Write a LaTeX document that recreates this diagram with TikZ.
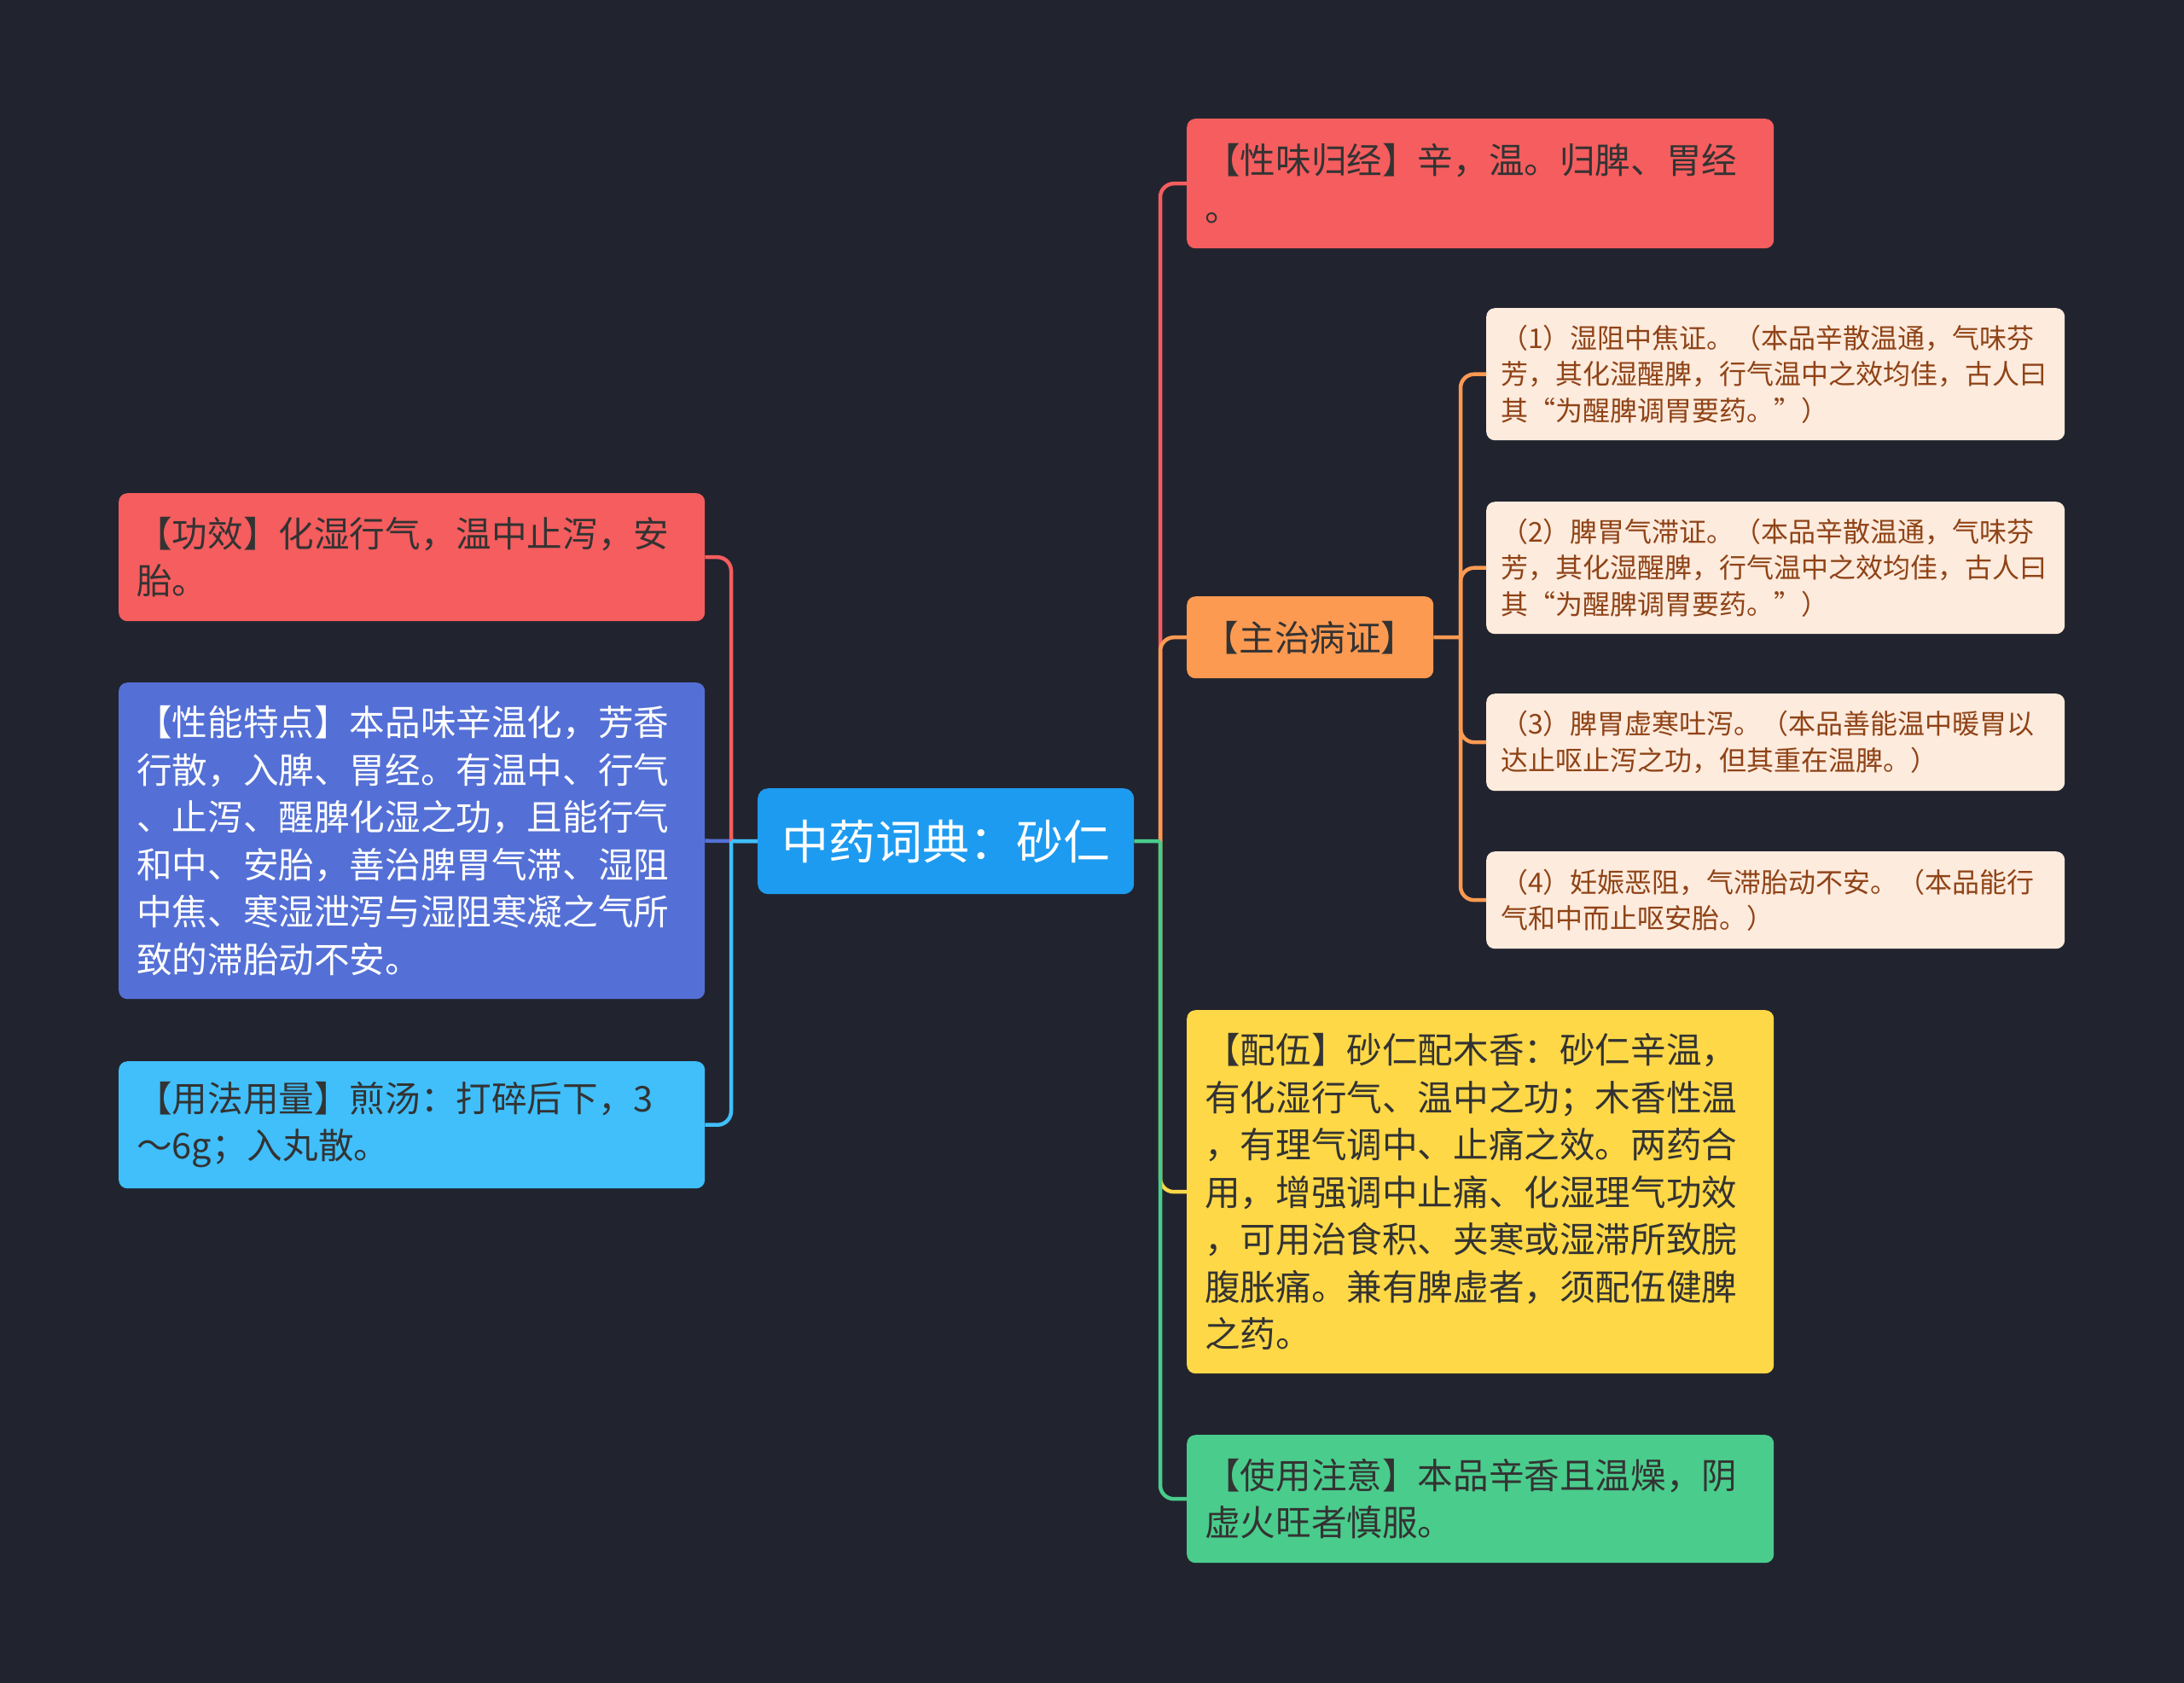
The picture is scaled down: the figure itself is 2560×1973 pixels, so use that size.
\documentclass[tikz,border=0pt]{standalone}
\usepackage{fontspec}
\setmainfont{Noto Sans CJK SC}
\definecolor{bg}{HTML}{21242F}
\definecolor{cred}{HTML}{F55D5E}
\definecolor{croot}{HTML}{1D9BF0}
\definecolor{cpurple}{HTML}{5470D6}
\definecolor{clblue}{HTML}{40BFFB}
\definecolor{corange}{HTML}{FD9A52}
\definecolor{cpeach}{HTML}{FDEBDD}
\definecolor{cyellow}{HTML}{FED846}
\definecolor{cgreen}{HTML}{4ACC8C}
\definecolor{tdark}{HTML}{333333}
\definecolor{tbrown}{HTML}{8F4317}
\begin{document}
\begin{tikzpicture}[x=1pt,y=-1pt,
  box/.style={rounded corners=10pt, inner xsep=21pt, inner ysep=0pt, anchor=north west,
    align=left, font=\fontsize{41.6}{55.5}\selectfont, text=tdark},
  bigbox/.style={box, text width=645pt},
  smallbox/.style={box, fill=cpeach, inner xsep=17pt, text width=644pt,
    font=\fontsize{32}{42.5}\selectfont, text=tbrown},
  conn/.style={line width=4.5pt, rounded corners=16pt}]
\fill[bg] (0,0) rectangle (2560,1973);
\useasboundingbox (0,0) rectangle (2560,1973);

% root
\node[fill=croot, text=white, font=\fontsize{55}{66}\selectfont, minimum width=441pt,
  minimum height=124pt, rounded corners=12pt, anchor=north west, inner sep=0pt]
  (root) at (888,924) {中药词典：砂仁};

% left
\node[bigbox, fill=cred, minimum height=150pt] (gx) at (139,578)
  {【功效】化湿行气，温中止泻，安\\胎。};
\node[bigbox, fill=cpurple, text=white, minimum height=371pt] (xntd) at (139,800)
  {【性能特点】本品味辛温化，芳香\\行散，入脾、胃经。有温中、行气\\、止泻、醒脾化湿之功，且能行气\\和中、安胎，善治脾胃气滞、湿阻\\中焦、寒湿泄泻与湿阻寒凝之气所\\致的滞胎动不安。};
\node[bigbox, fill=clblue, minimum height=149pt] (yfyl) at (139,1244)
  {【用法用量】煎汤：打碎后下，3\\～6g；入丸散。};

% right
\node[bigbox, fill=cred, text width=646pt, minimum height=152pt] (xwgj) at (1391,139)
  {【性味归经】辛，温。归脾、胃经\\。};
\node[box, fill=corange, inner xsep=0pt, text width=289pt, align=center, minimum height=96pt] (zzbz) at (1391,699)
  {【主治病证】};
\node[smallbox, minimum height=155pt] (s1) at (1742,361)
  {（1）湿阻中焦证。（本品辛散温通，气味芬\\芳，其化湿醒脾，行气温中之效均佳，古人曰\\其“为醒脾调胃要药。”）};
\node[smallbox, minimum height=155pt] (s2) at (1742,588)
  {（2）脾胃气滞证。（本品辛散温通，气味芬\\芳，其化湿醒脾，行气温中之效均佳，古人曰\\其“为醒脾调胃要药。”）};
\node[smallbox, minimum height=114pt] (s3) at (1742,813)
  {（3）脾胃虚寒吐泻。（本品善能温中暖胃以\\达止呕止泻之功，但其重在温脾。）};
\node[smallbox, minimum height=114pt] (s4) at (1742,998)
  {（4）妊娠恶阻，气滞胎动不安。（本品能行\\气和中而止呕安胎。）};
\node[bigbox, fill=cyellow, text width=646pt, minimum height=426pt] (py) at (1391,1184)
  {【配伍】砂仁配木香：砂仁辛温，\\有化湿行气、温中之功；木香性温\\，有理气调中、止痛之效。两药合\\用，增强调中止痛、化湿理气功效\\，可用治食积、夹寒或湿滞所致脘\\腹胀痛。兼有脾虚者，须配伍健脾\\之药。};
\node[bigbox, fill=cgreen, text width=646pt, minimum height=150pt] (syzy) at (1391,1682)
  {【使用注意】本品辛香且温燥，阴\\虚火旺者慎服。};

% connectors
\coordinate (rb) at (1360,986);
\coordinate (lb) at (857,986);
\coordinate (sb) at (1712,747);

\draw[conn, cred] (rb) |- (xwgj.west);
\draw[conn, corange] (rb) |- (zzbz.west);
\draw[conn, cyellow] (rb) |- (py.west);
\draw[conn, cgreen] (rb) |- (syzy.west);
\draw[conn, cgreen] (root.east) -- (rb);

\draw[conn, cpurple] (root.west) -- (xntd.east);
\draw[conn, cred] (lb) |- (gx.east);
\draw[conn, clblue] (lb) |- (yfyl.east);
\draw[conn, clblue] (root.west) -- (lb);

\draw[conn, corange] (zzbz.east) -- (sb);
\draw[conn, corange] (sb) |- (s1.west);
\draw[conn, corange] (sb) |- (s2.west);
\draw[conn, corange] (sb) |- (s3.west);
\draw[conn, corange] (sb) |- (s4.west);
\end{tikzpicture}
\end{document}
